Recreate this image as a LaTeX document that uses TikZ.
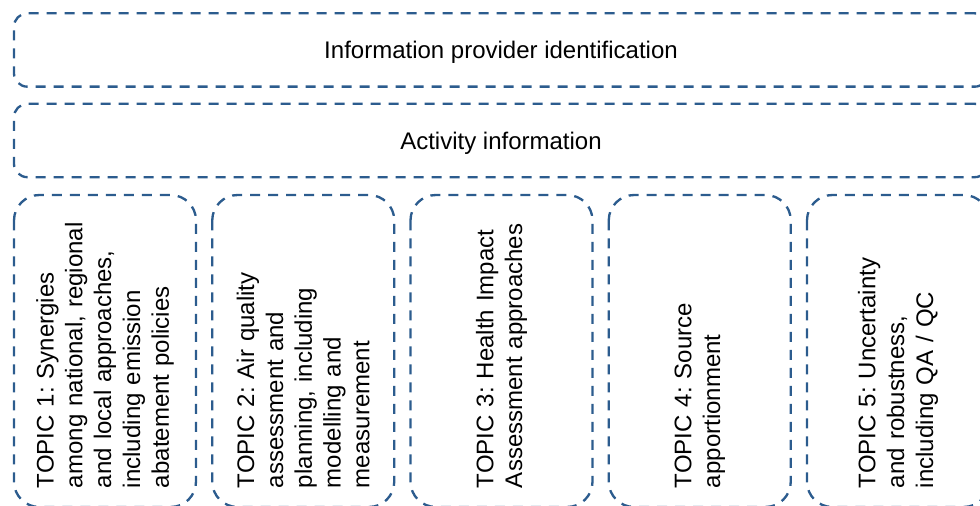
\documentclass[tikz,border=0pt]{standalone}
\usepackage{fontspec}
\setmainfont{Liberation Sans}
\usepackage{tikz}
\definecolor{dashblue}{RGB}{44,92,142}
\frenchspacing

\begin{document}
\begin{tikzpicture}[x=0.75pt, y=-0.75pt, font=\fontsize{18}{21.6}\selectfont,
        every node/.style={draw=dashblue, line width=1.75pt, dash pattern=on 7.5pt off 6pt},
        band/.style={rounded corners=10pt, minimum width=730.5pt, minimum height=55pt, inner sep=0pt,
            text height=15pt, text depth=1.5pt},
        topic/.style={rotate=90, rounded corners=19pt, minimum width=234pt, minimum height=136.5pt,
            inner xsep=14.25pt, inner ysep=0pt, text width=205.5pt, align=left}]
        \useasboundingbox (0,0) rectangle (980,506);

        \node[band] (provider) at (501,50) {Information provider identification};
        \node[band] (activity) at (501,140.5) {Activity information};

        \node[topic] (T1) at (105,351) {TOPIC 1: Synergies\\among national, regional\\and local approaches,\\including emission\\abatement policies};
        \node[topic] (T2) at (303.25,351) {TOPIC 2: Air quality\\assessment and\\planning, including\\modelling and\\measurement};
        \node[topic] (T3) at (501.5,351) {TOPIC 3: Health Impact\\Assessment approaches};
        \node[topic] (T4) at (699.75,351) {TOPIC 4: Source\\apportionment};
        \node[topic] (T5) at (898,351) {TOPIC 5: Uncertainty\\and robustness,\\including QA / QC};
    \end{tikzpicture}
\end{document}
